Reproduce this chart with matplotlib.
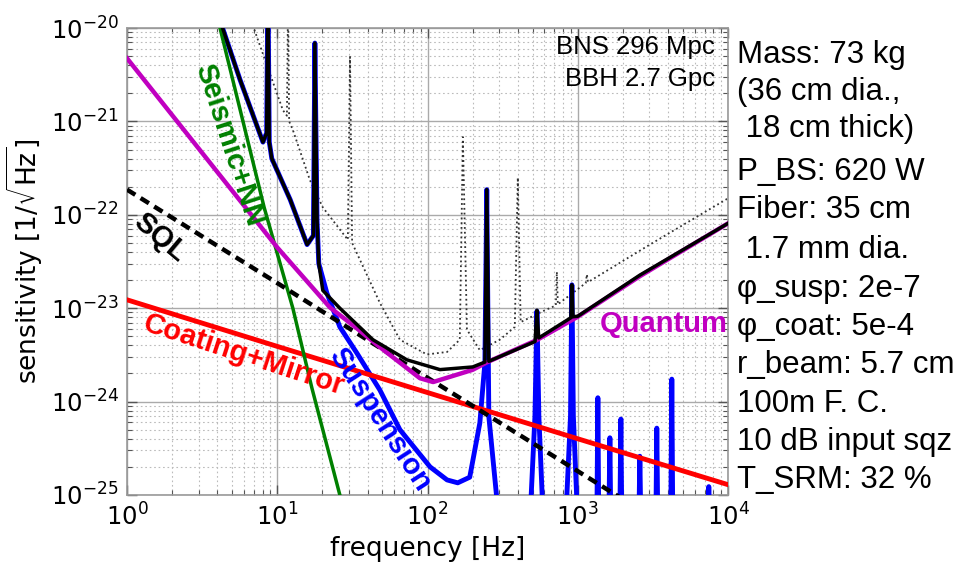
import matplotlib
matplotlib.use("Agg")
import matplotlib.pyplot as plt
from matplotlib.ticker import LogLocator, NullFormatter, LogFormatterSciNotation

# ---------------- data ----------------
x_ticks = [1, 10, 100, 1000, 10000]
y_ticks = [1e-25, 1e-24, 1e-23, 1e-22, 1e-21, 1e-20]

quantum_f = [1, 10, 22.4, 33, 48, 89, 109, 200, 248, 535, 1000, 2590, 10000]
quantum_h = [4.74e-21, 4.47e-23, 1.02e-23, 6.3e-24, 3.85e-24, 1.78e-24, 1.62e-24,
             2.19e-24, 2.63e-24, 4.57e-24, 8.1e-24, 2.2e-23, 8.1e-23]

seismic_f = [3.8, 4.16, 8.18, 12.7, 17.0, 26.1, 28.0]
seismic_h = [2.0e-20, 1.0e-20, 1.2e-22, 1.0e-23, 1.4e-24, 1.0e-25, 7.0e-26]

coating_f = [1, 10, 100, 1000, 10000]
coating_h = [1.23e-23, 3.9e-24, 1.25e-24, 4.0e-25, 1.29e-25]

sql_f = [1, 10, 100, 1000, 2000]
sql_h = [1.86e-22, 1.86e-23, 1.8e-24, 1.8e-25, 9.0e-26]

susp_f = [4.03, 5.65, 8.03, 8.5, 8.67, 8.85, 9.2, 12.2, 15.8, 17.4, 17.8, 18.4, 18.9,
          21.4, 26.1, 33.9, 48.2, 65.5, 104, 135, 159, 191, 223, 241, 248, 256, 294,
          400, 480, 519, 535, 551, 590, 830, 895, 914, 935, 1000,
          1340, 1361, 1380, 1610, 1636, 1660, 1905, 1936, 1965, 2550, 2590, 2630,
          3310, 3358, 3410, 4160, 4227, 4290, 7340, 7450, 7560, 10000]
susp_h = [1.4e-20, 2.8e-21, 6.0e-22, 7.5e-22, 3e-20, 6e-22, 4.0e-22, 1.45e-22, 4.8e-23,
          6e-23, 6.9e-21, 8.7e-23, 3.0e-23,
          1.45e-23, 6.3e-24, 3.3e-24, 1.33e-24, 5.0e-25, 2.0e-25, 1.45e-25, 1.35e-25,
          1.55e-25, 5.9e-25, 2.6e-24, 1.86e-22, 6.9e-25, 7e-26,
          3e-26, 5e-26, 7e-25, 9.3e-24, 7e-25, 5e-26, 5e-26, 7e-25, 1.78e-23, 7e-25, 5e-26,
          5e-26, 1.1e-24, 5e-26, 5e-26, 4.1e-25, 5e-26, 5e-26, 6.5e-25, 5e-26,
          5e-26, 2.6e-25, 5e-26, 5e-26, 5.2e-25, 5e-26, 5e-26, 1.74e-24, 5e-26,
          5e-26, 1.23e-25, 5e-26, 5e-26]

total_f = [4.03, 5.65, 8.03, 8.5, 8.67, 8.85, 9.2, 12.2, 15.8, 17.4, 17.8, 18.4, 18.9,
           20.1, 26.1, 43.3, 72.9, 121, 200, 241, 248, 256, 520, 535, 550, 900, 914,
           930, 1000, 2590, 10000]
total_h = [1.4e-20, 2.8e-21, 6.0e-22, 7.5e-22, 3e-20, 6e-22, 4.0e-22, 1.45e-22, 4.8e-23,
           6e-23, 6.9e-21, 8.7e-23, 3.0e-23, 1.55e-23, 1.0e-23, 4.6e-24, 2.8e-24,
           2.2e-24, 2.35e-24, 2.65e-24, 1.86e-22, 2.7e-24, 4.4e-24, 9.5e-24, 4.8e-24,
           7.9e-24, 1.78e-23, 8.1e-24, 8.2e-24, 2.26e-23, 8.1e-23]

ref_f = [6.7, 10.9, 11.6, 11.8, 12.0, 12.7, 16.5, 20.1, 29.5, 30.5, 31.5, 48.2, 65.5,
         99, 135, 164, 172, 183, 223, 303, 381, 399, 417, 604, 715, 726, 737,
         1130, 1150, 1170, 3020, 10000]
ref_h = [1.2e-20, 1.32e-21, 1.15e-21, 2e-20, 1.0e-21, 8.1e-22, 2.35e-22, 1.2e-22,
         5.4e-23, 4.9e-21, 5.0e-23, 1.14e-23, 4.6e-24, 3.2e-24, 3.4e-24, 4.6e-24,
         6.8e-22, 5.9e-24, 3.55e-24, 4.6e-24, 6.3e-24, 2.5e-22, 7.1e-24, 9.5e-24,
         1.07e-23, 2.45e-23, 1.1e-23, 1.86e-23, 2.3e-23, 1.9e-23, 4.8e-23, 1.5e-22]

param_lines = ["Mass: 73 kg", "(36 cm dia.,", " 18 cm thick)", "P_BS: 620 W",
               "Fiber: 35 cm", " 1.7 mm dia.", "φ_susp: 2e-7", "φ_coat: 5e-4",
               "r_beam: 5.7 cm", "100m F. C.", "10 dB input sqz", "T_SRM: 32 %"]
range_lines = ["BNS 296 Mpc", "BBH 2.7 Gpc"]

# ---------------- figure ----------------
fig = plt.figure(figsize=(9.63, 5.65), dpi=100)
ax = fig.add_axes([127 / 963, 70 / 565, 601 / 963, 467 / 565])
ax.set_xscale("log")
ax.set_yscale("log")

ax.plot(ref_f, ref_h, ls=":", color="#333333", lw=1.3, zorder=2)
ax.plot(susp_f, susp_h, color="#0000ff", lw=3.5, solid_joinstyle="round",
        solid_capstyle="round", zorder=3)
ax.plot(coating_f, coating_h, color="#ff0000", lw=3.5, zorder=4)
ax.plot(seismic_f, seismic_h, color="#008000", lw=2.5, zorder=4)
ax.plot(sql_f, sql_h, color="black", lw=3.2, ls=(0, (2.2, 1.4)), zorder=4)
ax.plot(quantum_f, quantum_h, color="#c000c0", lw=3.2, zorder=5)
ax.plot(total_f, total_h, color="black", lw=2.5, solid_joinstyle="round", zorder=6)

# ticks / grid
ax.set_xticks(x_ticks)
ax.set_yticks(y_ticks)
ax.xaxis.set_major_formatter(LogFormatterSciNotation())
ax.yaxis.set_major_formatter(LogFormatterSciNotation())
ax.xaxis.set_minor_locator(LogLocator(base=10, subs=range(2, 10), numticks=20))
ax.yaxis.set_minor_locator(LogLocator(base=10, subs=range(2, 10), numticks=20))
ax.xaxis.set_minor_formatter(NullFormatter())
ax.yaxis.set_minor_formatter(NullFormatter())
ax.set_xlim(x_ticks[0], x_ticks[-1])
ax.set_ylim(y_ticks[0], y_ticks[-1])
ax.tick_params(which="both", direction="in", top=True, right=True, colors="#555555",
               labelcolor="black")
ax.tick_params(which="major", length=7, width=1, labelsize=17.5, pad=6)
ax.tick_params(which="minor", length=3.5, width=0.8)
ax.grid(which="major", color="#aaaaaa", lw=1.0, ls="-")
ax.grid(which="minor", color="#bbbbbb", lw=0.8, ls=(0, (1.5, 2.5)))
ax.set_axisbelow(True)
for s in ax.spines.values():
    s.set_color("#999999")
    s.set_linewidth(1.2)

ax.set_xlabel("frequency [Hz]", fontsize=19, labelpad=4)
ax.set_ylabel(r"sensitivity [1/$\sqrt{\rm Hz}$]", fontsize=19, labelpad=4)

# curve labels
lab = dict(family="Liberation Sans", fontweight="bold", fontsize=21,
           transform=ax.transAxes, ha="center", va="center", zorder=8)
ax.text(0.170, 0.749, "Seismic+NN", color="#008000", rotation=-72, **lab)
ax.text(0.055, 0.552, "SQL", color="black", rotation=-40, **lab)
ax.text(0.195, 0.300, "Coating+Mirror", color="#ff0000", rotation=-18, **lab)
ax.text(0.421, 0.161, "Suspension", color="#0000ff", rotation=-57, **lab)
ax.text(1.0, 0.366, "Quantum", color="#c000c0", family="Liberation Sans",
        fontweight="bold", fontsize=21, transform=ax.transAxes, ha="right",
        va="center", zorder=8)

# range text
for i, s in enumerate(range_lines):
    ax.text(0.978, 0.959 - i * 0.069, s, transform=ax.transAxes, ha="right",
            va="center", family="Liberation Sans", fontsize=18.5, zorder=8)

# parameter block
baselines = [63, 100, 137, 180, 218, 258, 297, 335, 373, 412, 450, 488]
for s, b in zip(param_lines, baselines):
    fig.text(737 / 963, 1 - b / 565, s, ha="left", va="baseline",
             family=["Liberation Sans", "DejaVu Sans"], fontsize=22.5)

fig.savefig("out.png", dpi=100)
